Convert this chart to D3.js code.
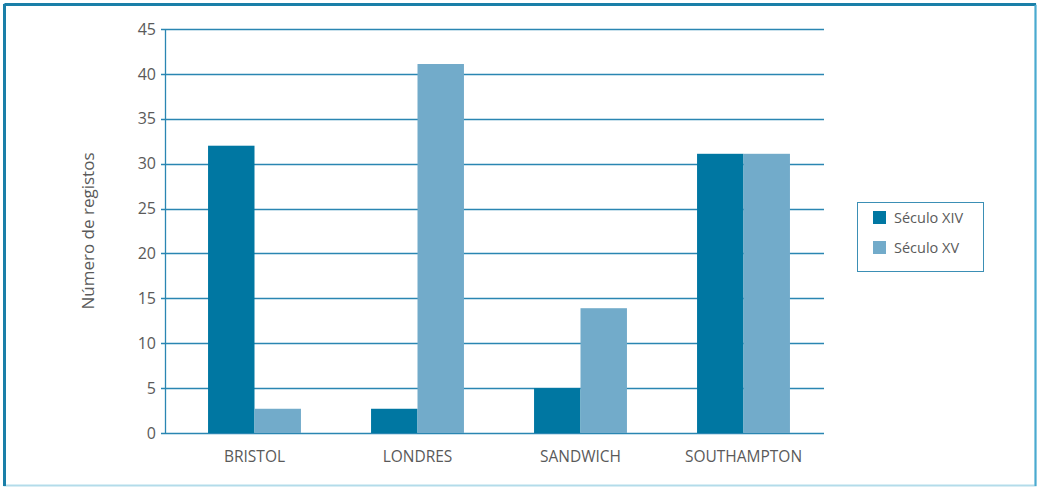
<!DOCTYPE html>
<html>
<head>
<meta charset="utf-8">
<script src="https://cdn.jsdelivr.net/npm/d3@7"></script>
<style>
  body { margin: 0; background: #fff; }
  svg { display: block; font-family: "Open Sans", sans-serif; }
</style>
</head>
<body>
<svg id="chart" width="1037" height="487"></svg>
<script>
// data
const cities = ["BRISTOL", "LONDRES", "SANDWICH", "SOUTHAMPTON"];
const seriesNames = ["Século XIV", "Século XV"];
const seculoXIV = [32, 2.7, 5, 31.1];
const seculoXV = [2.7, 41.1, 13.9, 31.1];
const yTicks = [0, 5, 10, 15, 20, 25, 30, 35, 40, 45];

const colors = ["#0077a2", "#72abca"];
const textColor = "#5a5a5a";

const svg = d3.select("#chart");

// frame
svg.append("rect").attr("x", 4.5).attr("y", 4.5).attr("width", 1031).attr("height", 481)
  .attr("fill", "none").attr("stroke", "#b3dcea").attr("stroke-width", 2);
svg.append("line").attr("x1", 4.5).attr("x2", 1036).attr("y1", 4.5).attr("y2", 4.5)
  .attr("stroke", "#1a7fa8").attr("stroke-width", 3);
svg.append("line").attr("x1", 4.5).attr("x2", 4.5).attr("y1", 4).attr("y2", 486)
  .attr("stroke", "#1a7fa8").attr("stroke-width", 3);
svg.append("line").attr("x1", 1035.5).attr("x2", 1035.5).attr("y1", 5).attr("y2", 486)
  .attr("stroke", "#4aaad0").attr("stroke-width", 2);

const plotLeft = 165, plotRight = 824, plotTop = 29, plotBottom = 433;

const y = d3.scaleLinear().domain([0, 45]).range([plotBottom, plotTop]);
const x0 = d3.scaleBand().domain(cities).range([173, 825]).paddingInner(0.43).paddingOuter(0.215);
const x1 = d3.scaleBand().domain(seriesNames).range([0, x0.bandwidth()]);

// gridlines
svg.append("g")
  .selectAll("line")
  .data(yTicks)
  .join("line")
  .attr("x1", plotLeft - 4)
  .attr("x2", plotRight)
  .attr("y1", d => Math.round(y(d)) + 0.5)
  .attr("y2", d => Math.round(y(d)) + 0.5)
  .attr("stroke", "#2a86b2")
  .attr("stroke-width", 1.3);

// bars
const rows = cities.map((c, i) => ({ city: c, values: [seculoXIV[i], seculoXV[i]] }));
const groups = svg.append("g").selectAll("g")
  .data(rows)
  .join("g")
  .attr("transform", d => "translate(" + x0(d.city) + ",0)");

groups.selectAll("rect")
  .data(d => d.values.map((v, j) => ({ key: seriesNames[j], v: v, j: j })))
  .join("rect")
  .attr("x", d => x1(d.key))
  .attr("width", x1.bandwidth())
  .attr("y", d => y(d.v))
  .attr("height", d => plotBottom - y(d.v))
  .attr("fill", d => colors[d.j]);

// y axis
const yAxis = svg.append("g")
  .attr("transform", "translate(" + plotLeft + ",0)")
  .call(d3.axisLeft(y).tickValues(yTicks).tickSize(4).tickPadding(5))
  .attr("font-family", "Open Sans");
yAxis.select(".domain").attr("stroke", "#2a86b2").attr("stroke-width", 1.3).attr("d", "M0.5," + plotTop + "V" + (plotBottom + 1));
yAxis.selectAll(".tick line").remove();
yAxis.selectAll("text").attr("font-size", 16).attr("fill", textColor);

// x axis labels
const xAxis = svg.append("g")
  .attr("transform", "translate(0," + plotBottom + ")")
  .call(d3.axisBottom(x0).tickSize(0).tickPadding(18))
  .attr("font-family", "Open Sans");
xAxis.select(".domain").remove();
xAxis.selectAll("text").attr("font-size", 15.5).attr("fill", textColor);

// y title
svg.append("text")
  .attr("transform", "translate(94,231) rotate(-90)")
  .attr("text-anchor", "middle")
  .attr("font-size", 17)
  .attr("fill", textColor)
  .text("Número de registos");

// legend
const legend = svg.append("g").attr("transform", "translate(857,202)");
legend.append("rect").attr("x", 0.5).attr("y", 0.5).attr("width", 126).attr("height", 69)
  .attr("fill", "#fff").attr("stroke", "#3b8fb5").attr("stroke-width", 1);
const items = legend.selectAll(".item")
  .data(seriesNames)
  .join("g")
  .attr("class", "item")
  .attr("transform", (d, i) => "translate(16," + (9 + i * 30) + ")");
items.append("rect").attr("width", 13).attr("height", 13).attr("fill", (d, i) => colors[i]);
items.append("text").attr("x", 21).attr("y", 12).attr("font-size", 14.5).attr("fill", textColor).text(d => d);
</script>
</body>
</html>
